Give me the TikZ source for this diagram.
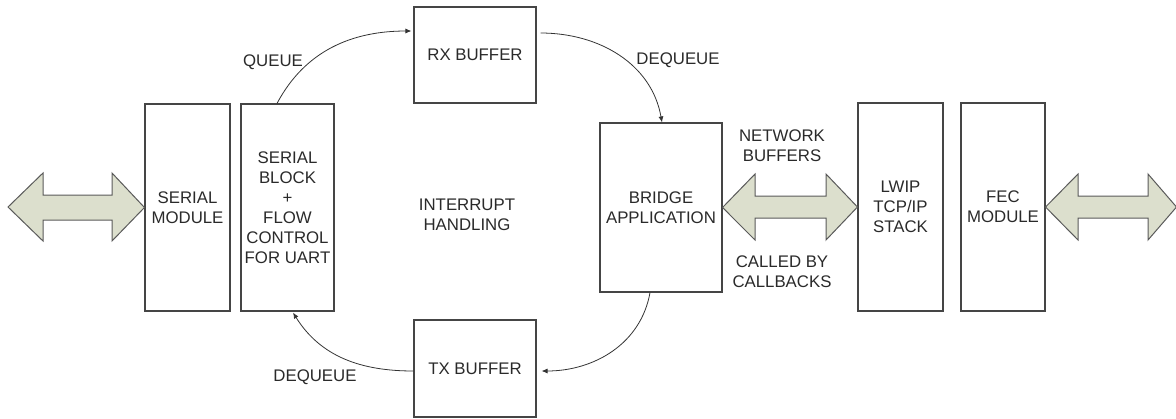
\documentclass[tikz,border=0pt]{standalone}
\usepackage{fontspec}
\setmainfont{Liberation Sans}
\usetikzlibrary{arrows.meta}
\definecolor{boxline}{HTML}{454545}
\definecolor{arrfill}{HTML}{DCDFCD}
\definecolor{arrline}{HTML}{5A5A5A}
\definecolor{txt}{HTML}{2A2A2A}
\begin{document}
\begin{tikzpicture}[x=1pt,y=-1pt,
  font=\fontsize{16.8}{20}\selectfont, text=txt,
  blk/.style={draw=boxline, line width=1.1pt, inner sep=0pt, align=center},
  lbl/.style={align=center, inner sep=0pt},
  conn/.style={draw=black!80, line width=0.8pt, -{Latex[length=6pt,width=5pt]}},
  bigarrow/.style={fill=arrfill, draw=arrline, line width=1pt, line join=miter}]
\useasboundingbox (0,0) rectangle (1176,418);

% boxes
\node[blk, minimum width=85pt, minimum height=207pt] (sermod) at (187.5,207.5) {SERIAL\\MODULE};
\node[blk, minimum width=93pt, minimum height=207pt] (serblk) at (287.5,207.5) {SERIAL\\BLOCK\\+\\FLOW\\CONTROL\\FOR UART};
\node[blk, minimum width=122pt, minimum height=96pt] (rx) at (475,55) {RX BUFFER};
\node[blk, minimum width=122pt, minimum height=97pt] (tx) at (475,368.5) {TX BUFFER};
\node[blk, minimum width=122pt, minimum height=169pt] (bridge) at (661,207.5) {BRIDGE\\APPLICATION};
\node[blk, minimum width=85pt, minimum height=208pt] (lwip) at (900.5,207) {LWIP\\TCP/IP\\STACK};
\node[blk, minimum width=84pt, minimum height=208pt] (fec) at (1003,207) {FEC\\MODULE};

% labels
\node[lbl] (lqueue) at (273,62) {QUEUE};
\node[lbl] (ldeq1) at (678,60) {DEQUEUE};
\node[lbl] (ldeq2) at (315,377) {DEQUEUE};
\node[lbl] (lint) at (467,215) {INTERRUPT\\HANDLING};
\node[lbl] (lnet) at (782,146) {NETWORK\\BUFFERS};
\node[lbl] (lcall) at (782,272) {CALLED BY\\CALLBACKS};

% curved connectors (yshift is in canvas units: positive = up)
\coordinate (q0) at ([xshift=-10.5pt]serblk.north);
\coordinate (q1) at ([xshift=-2pt,yshift=24pt]rx.west);
\draw[conn] (q0) to[out=62,in=180] (q1);
\coordinate (d0) at ([xshift=4pt,yshift=22pt]rx.east);
\coordinate (d1) at ([xshift=1pt]bridge.north);
\draw[conn] (d0) to[out=0,in=100] (d1);
\coordinate (b0) at ([xshift=-11pt]bridge.south);
\coordinate (b1) at ([xshift=5pt,yshift=-2.5pt]tx.east);
\draw[conn] (b0) to[out=-100,in=0] (b1);
\coordinate (t0) at ([yshift=-2.5pt]tx.west);
\coordinate (t1) at ([xshift=5.5pt,yshift=-1pt]serblk.south);
\draw[conn] (t0) to[out=180,in=-58] (t1);

% double arrows
\draw[bigarrow] (8,207) -- (43,173) -- (43,195) -- (112,195) -- (112,173) -- (sermod.west)
  -- (112,241) -- (112,220) -- (43,220) -- (43,241) -- cycle;
\draw[bigarrow] (bridge.east) -- (755,174) -- (755,196) -- (826,196) -- (826,174) -- (lwip.west)
  -- (826,240) -- (826,218) -- (755,218) -- (755,240) -- cycle;
\draw[bigarrow] (fec.east) -- (1078,174) -- (1078,196) -- (1148,196) -- (1148,174) -- (1176.5,207)
  -- (1148,240) -- (1148,218) -- (1078,218) -- (1078,240) -- cycle;
\end{tikzpicture}
\end{document}
